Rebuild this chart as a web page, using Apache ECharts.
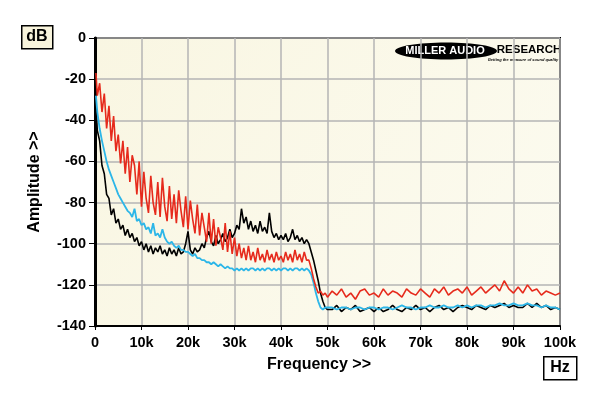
<!DOCTYPE html>
<html>
<head>
<meta charset="utf-8">
<script src="https://cdn.jsdelivr.net/npm/echarts@6/dist/echarts.min.js"></script>
<style>
html,body{margin:0;padding:0;background:#ffffff;}
#chart{width:600px;height:396px;}
</style>
</head>
<body>
<div id="chart"></div>
<script>
// Frequencies in kHz
var freqs = [0.2,0.5,1,1.5,2,2.5,3,3.5,4,4.5,5,5.5,6,6.5,7,7.5,8,8.5,9,9.5,
10,10.5,11,11.5,12,12.5,13,13.5,14,14.5,15,15.5,16,16.5,17,17.5,18,18.5,19,19.5,
20,20.5,21,21.5,22,22.5,23,23.5,24,24.5,25,25.5,26,26.5,27,27.5,28,28.5,29,29.5,
30,30.5,31,31.5,32,32.5,33,33.5,34,34.5,35,35.5,36,36.5,37,37.5,38,38.5,39,39.5,
40,40.5,41,41.5,42,42.5,43,43.5,44,44.5,45,45.5,46,46.5,47,47.5,48,48.5,49,49.5,
50,51,52,53,54,55,56,57,58,59,60,61,62,63,64,65,66,67,68,69,
70,71,72,73,74,75,76,77,78,79,80,81,82,83,84,85,86,87,88,89,
90,91,92,93,94,95,96,97,98,99,100];

var redDb = [-17,-28,-22,-36,-27,-44,-33,-50,-38,-55,-47,-61,-50,-66,-53,-70,-57,-62,-76,-60,
-82,-65,-78,-85,-67,-80,-86,-70,-87,-68,-82,-89,-72,-88,-76,-90,-74,-84,-92,-77,
-93,-79,-88,-95,-81,-96,-85,-92,-99,-85,-100,-88,-101,-92,-97,-103,-90,-104,-94,-105,
-97,-106,-100,-107,-102,-108,-101,-108,-104,-109,-102,-108,-105,-109,-103,-108,-105,-109,-104,-108,
-106,-109,-104,-108,-105,-109,-103,-108,-105,-109,-104,-108,-108,-112,-117,-121,-124,-123,-125,-124,
-126,-123,-125,-122,-126,-124,-127,-123,-122,-125,-124,-126,-122,-125,-123,-124,-126,-122,-124,-125,
-122,-124,-126,-122,-124,-121,-125,-123,-122,-124,-121,-125,-123,-121,-124,-122,-120,-123,-118,-122,
-124,-121,-124,-120,-123,-122,-125,-123,-124,-125,-124];

var blackDb = [-33,-45,-50,-62,-66,-76,-78,-86,-83,-90,-88,-93,-91,-96,-93,-97,-95,-99,-97,-101,
-99,-103,-100,-104,-101,-105,-102,-104,-101,-105,-103,-106,-102,-105,-103,-106,-102,-105,-104,-100,
-94,-103,-105,-102,-104,-103,-100,-102,-97,-94,-99,-101,-96,-100,-98,-95,-99,-97,-93,-97,
-95,-91,-93,-83,-90,-87,-93,-89,-94,-91,-95,-89,-94,-92,-95,-85,-94,-97,-95,-98,
-96,-98,-95,-99,-97,-93,-98,-96,-99,-97,-100,-98,-100,-104,-108,-113,-118,-124,-128,-131,
-132,-132,-130,-133,-131,-132,-130,-133,-132,-131,-133,-131,-133,-132,-130,-132,-133,-131,-132,-130,
-132,-131,-133,-131,-130,-132,-131,-133,-131,-130,-131,-132,-130,-131,-132,-130,-131,-130,-129,-131,
-130,-131,-131,-129,-131,-129,-131,-130,-132,-131,-132];

var cyanDb = [-28,-36,-44,-50,-55,-60,-64,-67,-70,-73,-76,-78,-80,-82,-84,-85,-87,-83,-89,-88,
-91,-90,-93,-92,-95,-90,-96,-95,-97,-93,-97,-99,-100,-99,-101,-102,-101,-103,-103,-104,
-104,-105,-106,-105,-107,-107,-108,-108,-109,-109,-110,-109,-110,-111,-110,-111,-112,-111,-112,-112,
-113,-112,-113,-112,-113,-112,-113,-112,-112,-113,-112,-113,-112,-113,-112,-112,-113,-112,-113,-112,
-113,-112,-112,-113,-112,-113,-112,-112,-113,-112,-113,-112,-113,-115,-119,-124,-128,-131,-132,-131,
-131,-131,-132,-131,-131,-132,-131,-131,-132,-131,-131,-132,-131,-131,-132,-131,-130,-131,-131,-132,
-131,-131,-130,-131,-131,-130,-131,-131,-130,-131,-130,-131,-130,-130,-131,-130,-130,-129,-130,-130,
-129,-130,-130,-129,-130,-130,-131,-130,-131,-131,-132];

var yTicks = [0,-20,-40,-60,-80,-100,-120,-140];
var xTickLabels = ['0','10k','20k','30k','40k','50k','60k','70k','80k','90k','100k'];

function pairs(ys){ return freqs.map(function(f,i){ return [f, ys[i]]; }); }

var chart = echarts.init(document.getElementById('chart'), null, {renderer:'canvas'});
var FONT = 'Liberation Sans, Arial, sans-serif';
chart.setOption({
  backgroundColor:'#ffffff',
  animation:false,
  grid:{left:95,right:40,top:38,bottom:70,show:true,
    backgroundColor:new echarts.graphic.LinearGradient(0,0,1,1,[{offset:0,color:'#f9f6e2'},{offset:1,color:'#fcfbf0'}]),
    borderColor:'#000',borderWidth:2},
  xAxis:{type:'value',min:0,max:100,interval:10,
    axisLine:{show:true,onZero:false,lineStyle:{color:'#000',width:2}},
    axisTick:{show:true,length:4,lineStyle:{color:'#000',width:1}},
    axisLabel:{color:'#000',fontFamily:FONT,fontWeight:'bold',fontSize:14.5,margin:9,
      formatter:function(v){ return xTickLabels[Math.round(v/10)]; }},
    splitLine:{show:true,lineStyle:{color:'#b4b4b4',width:1.5}}},
  yAxis:{type:'value',min:-140,max:0,interval:20,
    axisLine:{show:true,onZero:false,lineStyle:{color:'#000',width:3}},
    axisTick:{show:true,length:6,lineStyle:{color:'#000',width:1}},
    axisLabel:{color:'#000',fontFamily:FONT,fontWeight:'bold',fontSize:14.5,margin:9,
      formatter:function(v){ return yTicks.indexOf(v)>=0 ? String(v) : ''; }},
    splitLine:{show:true,lineStyle:{color:'#b4b4b4',width:1.5}}},
  series:[
    {type:'line',data:pairs(blackDb),showSymbol:false,symbol:'none',lineStyle:{color:'#000000',width:1.6},z:3},
    {type:'line',data:pairs(cyanDb),showSymbol:false,symbol:'none',lineStyle:{color:'#2cb6e8',width:1.8},z:4},
    {type:'line',data:pairs(redDb),showSymbol:false,symbol:'none',lineStyle:{color:'#e62a1c',width:1.6},z:5}
  ],
  graphic:[
    {type:'rect',left:21,top:25,shape:{width:31,height:23},style:{fill:'#f8f4dc',stroke:'#000',lineWidth:1.5}},
    {type:'text',x:37,y:37,style:{text:'dB',font:'bold 16px '+FONT,fill:'#000',align:'center',verticalAlign:'middle'}},
    {type:'rect',left:543,top:356,shape:{width:33,height:23},style:{fill:'#ffffff',stroke:'#000',lineWidth:1.5}},
    {type:'text',x:560,y:368,style:{text:'Hz',font:'bold 16px '+FONT,fill:'#000',align:'center',verticalAlign:'middle'}},
    {type:'text',x:319,y:365,style:{text:'Frequency >>',font:'bold 16px '+FONT,fill:'#000',align:'center',verticalAlign:'middle'}},
    {type:'text',x:35,y:182,rotation:Math.PI/2,style:{text:'Amplitude >>',font:'bold 16px '+FONT,fill:'#000',align:'center',verticalAlign:'middle'}},
    {type:'ellipse',shape:{cx:446,cy:51,rx:51,ry:8.5},style:{fill:'#000'}},
    {type:'text',x:445,y:51,style:{text:'MILLER AUDIO',font:'bold 11px '+FONT,fill:'#fff',align:'center',verticalAlign:'middle'}},
    {type:'text',x:529,y:50,style:{text:'RESEARCH',font:'bold 11.5px '+FONT,fill:'#000',align:'center',verticalAlign:'middle'}},
    {type:'text',x:523,y:60,style:{text:'Getting the measure of sound quality',font:'italic bold 4px '+FONT,fill:'#000',align:'center',verticalAlign:'middle'}}
  ]
});
</script>
</body>
</html>
